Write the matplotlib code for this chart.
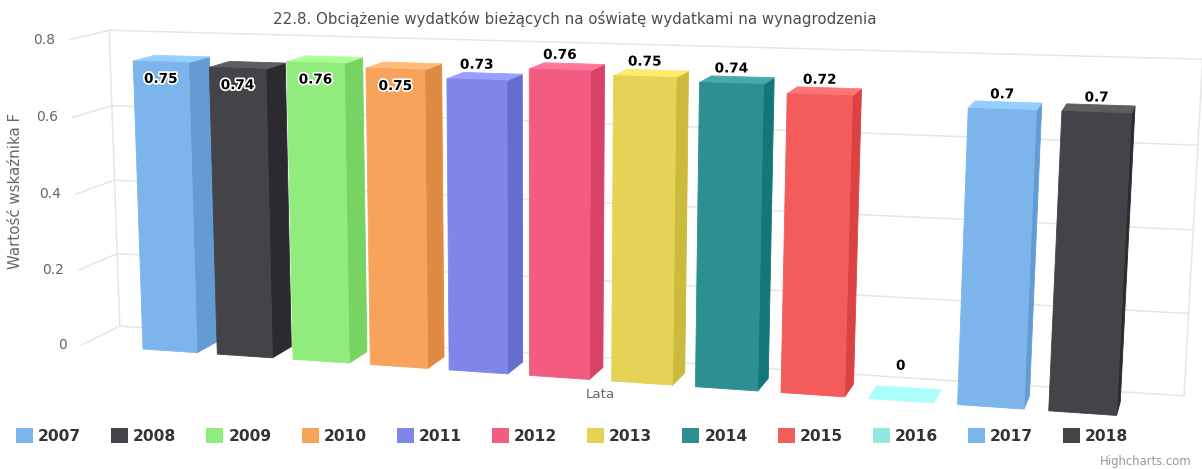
import numpy as np
import matplotlib.pyplot as plt
from matplotlib.patches import Polygon, Rectangle
import matplotlib.patheffects as pe
from matplotlib.colors import to_rgb

# dane
years = ['2007', '2008', '2009', '2010', '2011', '2012',
         '2013', '2014', '2015', '2016', '2017', '2018']
values = [0.75, 0.74, 0.76, 0.75, 0.73, 0.76, 0.75, 0.74, 0.72, 0.0, 0.70, 0.70]
colors = ['#7cb5ec', '#434348', '#90ed7d', '#f7a35c', '#8085e9', '#f15c80',
          '#e4d354', '#2b908f', '#f45b5b', '#91e8e1', '#7cb5ec', '#434348']
y_ticks = [0, 0.2, 0.4, 0.6, 0.8]

title = '22.8. Obciążenie wydatków bieżących na oświatę wydatkami na wynagrodzenia'
y_title = 'Wartość wskaźnika F'
x_title = 'Lata'

# kamera 3D: punkty zbiegu osi X, Y, Z i obraz poczatku ukladu (piksele)
VX = np.array([-7460.0, -170.0, 1.0])
VY = np.array([540.0, 12000.0, 1.0])
VZ = np.array([1300.0, -250.0, 1.0])
O = np.array([143.0, 349.0, 1.0])
SX, SY, SZ = -0.009677, -0.03216, 0.01838

BW = 0.73      # szerokosc slupka (w jednostkach kategorii)
ZB = 1.77      # glebokosc tylnej sciany
XL, XR = -0.84, 12.4
Y_MAX = 0.8


def proj(x, y, z):
    h = O + SX * x * VX + SY * y * VY + SZ * z * VZ
    return h[0] / h[2], h[1] / h[2]


def brighten(c, a):
    return tuple(np.clip(np.array(to_rgb(c)) + a, 0, 1))


def face(ax, pts, color, zorder):
    xy = [proj(*p) for p in pts]
    ax.add_patch(Polygon(xy, closed=True, facecolor=color, edgecolor=color,
                         lw=0.6, zorder=zorder))


fig = plt.figure(figsize=(12.02, 4.69), dpi=100)
ax = fig.add_axes([0, 0, 1, 1])
ax.set_xlim(0, 1202)
ax.set_ylim(469, 0)
ax.axis('off')

grid_c = '#e6e6e6'
# siatka na tylnej i bocznej scianie
for t in y_ticks:
    p = [proj(XL, t, 0), proj(XL, t, ZB), proj(XR, t, ZB)]
    ax.plot([q[0] for q in p], [q[1] for q in p], color=grid_c, lw=1.1, zorder=1)
    lx, ly = proj(XL, t, 0)
    ax.text(lx - 15, ly, f'{t:g}', ha='right', va='center', fontsize=10,
            color='#666666')
for xe in (XL, XR):
    p = [proj(xe, 0, ZB), proj(xe, Y_MAX, ZB)]
    ax.plot([q[0] for q in p], [q[1] for q in p], color=grid_c, lw=1.1, zorder=1)

# slupki 3D
for i, (v, c) in enumerate(zip(values, colors)):
    x0, x1 = i, i + BW
    z = 10 + i
    face(ax, [(x1, 0, 0), (x1, 0, 1), (x1, v, 1), (x1, v, 0)], brighten(c, -0.1), z)
    face(ax, [(x0, v, 0), (x1, v, 0), (x1, v, 1), (x0, v, 1)], brighten(c, 0.1), z)
    if v > 0:
        face(ax, [(x0, 0, 0), (x1, 0, 0), (x1, v, 0), (x0, v, 0)], c, z)

    tx, ty = proj(i + BW / 2, v, 0)
    if v == 0:
        ly = ty - 35
    elif ty < 69.4:
        ly = ty + 17
    else:
        ly = ty - 15
    ax.text(tx, ly, f'{v:g}', ha='center', va='center', fontsize=9.8,
            fontweight='bold', color='black', zorder=50,
            path_effects=[pe.withStroke(linewidth=2.5, foreground='white')])

# tytuly
ax.text(575, 19, title, ha='center', va='center', fontsize=10.8, color='#4d4d4d')
ax.text(16, 191, y_title, ha='center', va='center', rotation=90, fontsize=10.8,
        color='#666666')
ax.text(600, 395, x_title, ha='center', va='center', fontsize=9.6, color='#666666')

# legenda
for i, (yr, c) in enumerate(zip(years, colors)):
    lx = 16 + i * 95.2
    ax.add_patch(Rectangle((lx, 428.5), 17, 15, facecolor=c, edgecolor='none'))
    ax.text(lx + 22, 436.5, yr, ha='left', va='center', fontsize=11.2,
            fontweight='bold', color='#333333')

ax.text(1192, 461, 'Highcharts.com', ha='right', va='center', fontsize=8.4,
        color='#999999')

fig.savefig('out.png', dpi=100)
